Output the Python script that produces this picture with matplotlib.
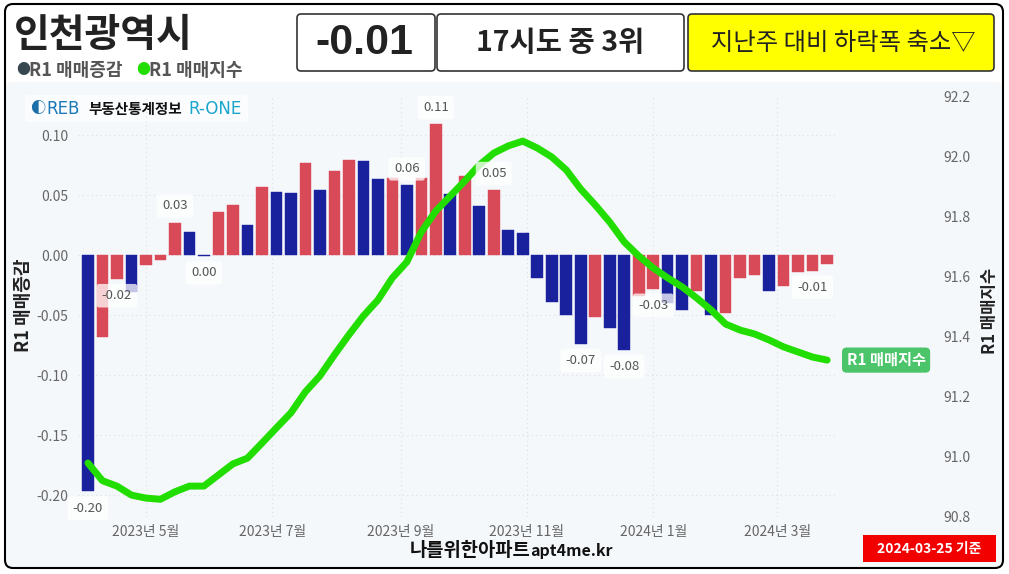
import numpy as np, pandas as pd, matplotlib
matplotlib.use("Agg")
import matplotlib.pyplot as plt
from matplotlib.patches import FancyBboxPatch
from matplotlib.transforms import IdentityTransform

plt.rcParams["font.family"] = ["Noto Sans CJK KR", "DejaVu Sans"]
plt.rcParams["axes.unicode_minus"] = False

W, H = 1009, 574
C_UP, C_DN, C_LINE = "#d94a58", "#1a219c", "#22dd00"

# ---- data ----
weeks = pd.date_range("2023-04-03", periods=52, freq="7D")
chg = [-0.197, -0.068, -0.020, -0.031, -0.008, -0.004, 0.027, 0.019, -0.001, 0.036,
       0.042, 0.025, 0.057, 0.0525, 0.052, 0.077, 0.054, 0.070, 0.079, 0.078,
       0.063, 0.064, 0.058, 0.064, 0.109, 0.051, 0.066, 0.041, 0.054, 0.021,
       0.018, -0.019, -0.039, -0.050, -0.074, -0.052, -0.061, -0.079, -0.034, -0.028,
       -0.040, -0.046, -0.030, -0.050, -0.048, -0.019, -0.017, -0.030, -0.026, -0.014,
       -0.013, -0.0075]
idx = [90.980, 90.921, 90.903, 90.873, 90.863, 90.859, 90.884, 90.903, 90.903, 90.940,
       90.977, 90.996, 91.046, 91.097, 91.147, 91.217, 91.270, 91.340, 91.407, 91.470,
       91.523, 91.597, 91.650, 91.750, 91.820, 91.870, 91.920, 91.973, 92.013, 92.037,
       92.053, 92.030, 92.000, 91.957, 91.893, 91.840, 91.783, 91.717, 91.670, 91.630,
       91.597, 91.567, 91.530, 91.490, 91.443, 91.423, 91.410, 91.390, 91.367, 91.350,
       91.333, 91.323]
label_at = [0, 2, 6, 8, 22, 24, 28, 34, 37, 39, 50]
month_ticks = pd.to_datetime(["2023-05-01", "2023-07-01", "2023-09-01",
                              "2023-11-01", "2024-01-01", "2024-03-01"])
month_labels = ["2023년 5월", "2023년 7월", "2023년 9월", "2023년 11월", "2024년 1월", "2024년 3월"]
left_ticks = [0.10, 0.05, 0.00, -0.05, -0.10, -0.15, -0.20]
right_ticks = [90.8, 91.0, 91.2, 91.4, 91.6, 91.8, 92.0, 92.2]

fig = plt.figure(figsize=(W/100, H/100), dpi=100, facecolor="white")

def box(x0, y0, x1, y1, fc, ec="none", lw=0, r=4, z=-1):
    p = FancyBboxPatch((x0, H-y1), x1-x0, y1-y0, boxstyle=f"round,pad=0,rounding_size={r}",
                       fc=fc, ec=ec, lw=lw, transform=IdentityTransform(), zorder=z)
    fig.patches.append(p)

def txt(x, y, s, **kw):
    return fig.text(x/W, 1-y/H, s, **kw)

# card + backgrounds
box(6, 82, 1002, 567, "#f5f8fb", r=6, z=-2)
box(5, 4, 1003, 568, "none", ec="black", lw=1.5, r=8, z=5)
box(297, 14, 435, 71, "white", ec="#333", lw=1.2)
box(437, 14, 684, 71, "white", ec="#333", lw=1.2)
box(688, 14, 994, 71, "#ffff00", ec="#333", lw=1.2)
box(863, 535, 996, 562, "#f20000", r=0)
box(25, 95, 248, 122, "#fbfcfe", r=2)

# ---- chart ----
ax = fig.add_axes([78/W, 1-517/H, (835-78)/W, (517-97)/H])
ax.set_facecolor("none")
colors = [C_DN if i == 0 or chg[i] <= chg[i-1] else C_UP for i in range(len(chg))]
ax.bar(weeks, chg, width=5.6, color=colors, edgecolor=colors, lw=0.3, zorder=2)
ax.set_xlim(weeks[0] - pd.Timedelta(days=4.8), weeks[0] + pd.Timedelta(days=360.8))
ax.set_ylim(-0.2183, 0.1317)
ax.set_yticks(left_ticks, [f"{t:.2f}" for t in left_ticks])
ax.set_xticks(month_ticks, month_labels)
ax.tick_params(axis="y", length=0, pad=7, labelcolor="#666", labelsize=10)
ax.tick_params(axis="x", length=0, pad=6, labelcolor="#666", labelsize=10)
ax.grid(True, color="#dbe0e6", lw=0.8, ls=(0, (1, 3)), zorder=0)
for s in ax.spines.values():
    s.set_visible(False)

ax2 = ax.twinx()
ax2.set_facecolor("none")
ax2.plot(weeks, idx, color=C_LINE, lw=5, solid_capstyle="round", solid_joinstyle="round", zorder=3)
ax2.set_ylim(90.8, 92.2)
ax2.set_yticks(right_ticks, [f"{t:.1f}" for t in right_ticks])
ax2.tick_params(axis="y", length=0, pad=78, labelcolor="#666", labelsize=10)
for lab in ax2.get_yticklabels():
    lab.set_horizontalalignment("left")
for s in ax2.spines.values():
    s.set_visible(False)

for i in label_at:
    v = chg[i]
    s = f"{v:.2f}".replace("-0.00", "0.00")
    ax2.annotate(s, xy=(ax.xaxis.convert_units(weeks[i]), v), xycoords=ax.transData,
                 xytext=(0, 12 if v > 0 else -12), textcoords="offset points",
                 ha="center", va="center", fontsize=9.5, color="#555",
                 bbox=dict(boxstyle="round,pad=0.4,rounding_size=0.2", fc="white", ec="none", alpha=0.75),
                 zorder=6)

ax2.annotate("R1 매매지수", xy=(weeks[-1], idx[-1]), xytext=(14, 0), textcoords="offset points",
             ha="left", va="center", fontsize=11, fontweight="bold", color="white",
             bbox=dict(boxstyle="round,pad=0.3,rounding_size=0.3", fc="#4cc46a", ec="none"), zorder=6)

txt(24, 305, "R1 매매증감", rotation=90, ha="center", va="center", fontsize=13, fontweight="bold", color="#222")
txt(990, 311, "R1 매매지수", rotation=90, ha="center", va="center", fontsize=12, fontweight="bold", color="#222")

# ---- header ----
txt(14, 36, "인천광역시", ha="left", va="center", fontsize=28, fontweight="bold", color="#222")
txt(16, 70, "●", ha="left", va="center", fontsize=10, color="#37474f")
txt(29, 70, "R1 매매증감", ha="left", va="center", fontsize=13, fontweight="bold", color="#555")
txt(136, 70, "●", ha="left", va="center", fontsize=10, color=C_LINE)
txt(149, 70, "R1 매매지수", ha="left", va="center", fontsize=13, fontweight="bold", color="#555")
txt(364, 43, "-0.01", ha="center", va="center", fontsize=31, fontweight="bold", color="#222",
    family=["Liberation Sans", "DejaVu Sans"])
txt(560, 43, "17시도 중 3위", ha="center", va="center", fontsize=20.5, fontweight="bold", color="#222")
txt(843, 43, "지난주 대비 하락폭 축소▽", ha="center", va="center", fontsize=17.5, color="#222")

# logo
txt(30, 109, "◐", ha="left", va="center", fontsize=11, color="#1d6fa8")
txt(46, 109, "REB", ha="left", va="center", fontsize=12, color="#1d78b8", family=["DejaVu Sans"])
txt(88, 109, "부동산통계정보", ha="left", va="center", fontsize=10.5, fontweight="bold", color="#111")
txt(188, 109, "R-ONE", ha="left", va="center", fontsize=12, color="#1aa6cc", family=["DejaVu Sans"])

# footer
txt(530, 556, "나를위한아파트", ha="right", va="baseline", fontsize=13.5, fontweight="bold", color="#111")
txt(530, 556, "apt4me.kr", ha="left", va="baseline", fontsize=11.5, fontweight="bold", color="#111")
txt(929, 549, "2024-03-25 기준", ha="center", va="center", fontsize=10, fontweight="bold", color="white")

fig.savefig("out.png", dpi=100, facecolor="white")
